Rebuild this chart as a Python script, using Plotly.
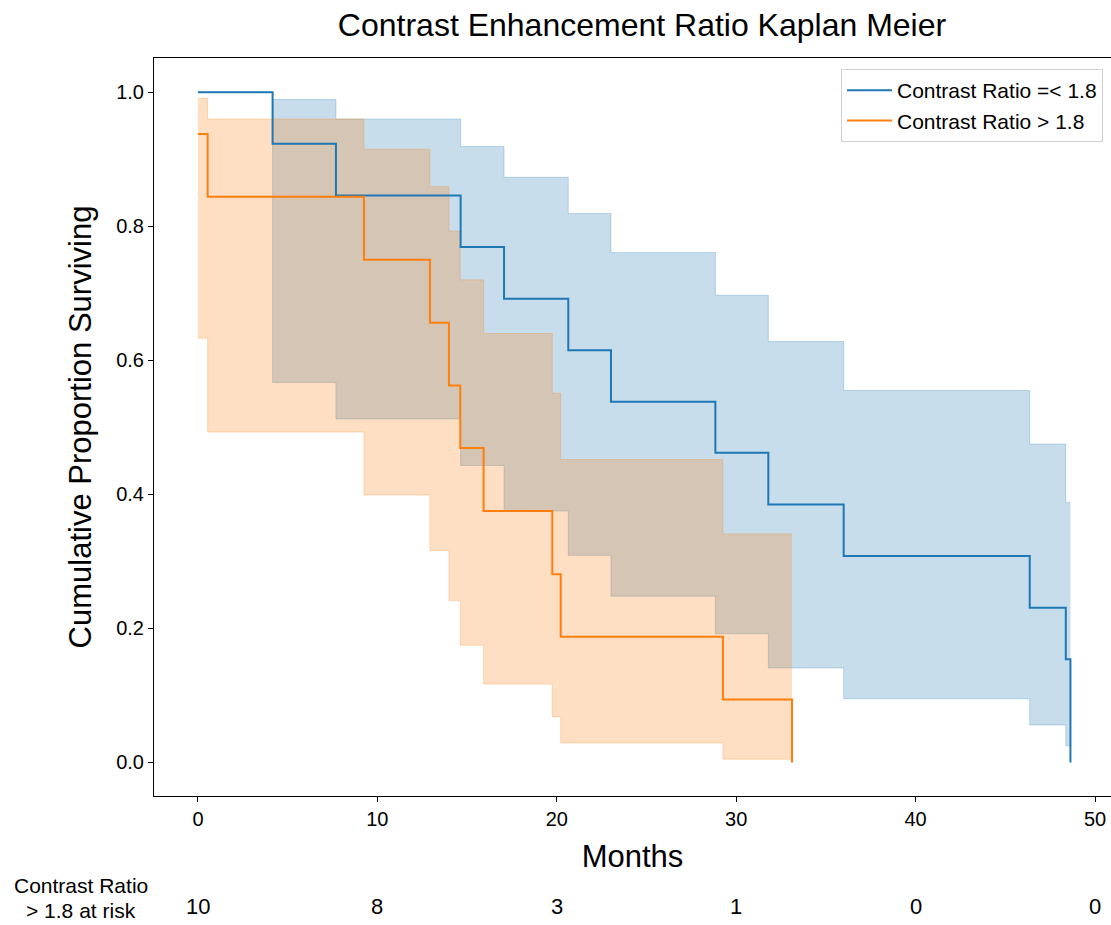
import plotly.graph_objects as go

# ---- data ----
low_times = [0, 4.16, 7.69, 14.64, 17.06, 20.64, 23.02, 28.84, 31.79, 35.99, 46.36, 48.37, 48.63]
low_surv = [1.0, 0.923, 0.846, 0.769, 0.692, 0.615, 0.538, 0.462, 0.385, 0.308, 0.231, 0.154, 0.0]
low_upper = [1.0, 0.989, 0.960, 0.919, 0.873, 0.819, 0.761, 0.697, 0.628, 0.555, 0.475, 0.388, 0.388]
low_lower = [1.0, 0.567, 0.5125, 0.443, 0.375, 0.309, 0.248, 0.192, 0.141, 0.095, 0.056, 0.025, 0.025]

high_times = [0, 0.54, 9.25, 12.93, 13.99, 14.62, 15.92, 19.75, 20.22, 29.26, 33.11]
high_surv = [0.9375, 0.844, 0.750, 0.656, 0.5625, 0.469, 0.375, 0.281, 0.1875, 0.094, 0.0]
high_upper = [0.991, 0.960, 0.915, 0.859, 0.793, 0.720, 0.640, 0.551, 0.452, 0.341, 0.341]
high_lower = [0.633, 0.493, 0.399, 0.316, 0.2415, 0.175, 0.117, 0.068, 0.029, 0.005, 0.005]

risk_times = [0, 10, 20, 30, 40, 50]
risk_counts = [10, 8, 3, 1, 0, 0]

series_names = ["Contrast Ratio =< 1.8", "Contrast Ratio > 1.8"]
title_text = "Contrast Enhancement Ratio Kaplan Meier"
risk_label_lines = ["Contrast Ratio", "> 1.8 at risk"]

BLUE = "#1f77b4"
ORANGE = "#ff7f0e"
BLUE_A = "rgba(31,119,180,0.25)"
ORANGE_A = "rgba(255,127,14,0.25)"
FONT = "Liberation Sans, Arial, sans-serif"

W, H = 1111, 925
plot_left, plot_right = 154, 1111
plot_top, plot_bot = 58, 796
pw = plot_right - plot_left
ph = plot_bot - plot_top


def ypaper(px):
    return (plot_bot - px) / ph


def xpaper(px):
    return (px - plot_left) / pw


fig = go.Figure()


def add_band(times, upper, lower, rgba):
    fig.add_trace(go.Scatter(x=times, y=upper, mode="lines", line=dict(color=rgba, width=1, shape="hv"),
                             showlegend=False, hoverinfo="skip"))
    fig.add_trace(go.Scatter(x=times, y=lower, mode="lines", line=dict(color=rgba, width=1, shape="hv"),
                             fill="tonexty", fillcolor=rgba, showlegend=False, hoverinfo="skip"))


add_band(low_times, low_upper, low_lower, BLUE_A)
add_band(high_times, high_upper, high_lower, ORANGE_A)

fig.add_trace(go.Scatter(x=low_times, y=low_surv, mode="lines", name=series_names[0],
                         line=dict(color=BLUE, width=2, shape="hv")))
fig.add_trace(go.Scatter(x=high_times, y=high_surv, mode="lines", name=series_names[1],
                         line=dict(color=ORANGE, width=2, shape="hv")))

ann = []
for t, c in zip(risk_times, risk_counts):
    ann.append(dict(x=t, xref="x", y=ypaper(906), yref="paper", text=str(c), showarrow=False,
                    font=dict(family=FONT, size=22, color="black"), xanchor="center", yanchor="middle"))
for py, line in zip([885, 910], risk_label_lines):
    ann.append(dict(x=xpaper(81), xref="paper", y=ypaper(py), yref="paper", text=line, showarrow=False,
                    font=dict(family=FONT, size=21, color="black"), xanchor="center", yanchor="middle",
                    borderpad=0))

fig.update_layout(
    annotations=ann,
    width=W, height=H,
    margin=dict(l=plot_left, r=W - plot_right, t=plot_top, b=H - plot_bot, pad=0, autoexpand=False),
    paper_bgcolor="white", plot_bgcolor="white",
    font=dict(family=FONT, color="black"),
    title=dict(text=title_text, x=642 / W, xref="container", xanchor="center",
               y=1 - 25 / H, yref="container", yanchor="middle",
               font=dict(family=FONT, size=32, color="black")),
    legend=dict(x=xpaper(1103), y=ypaper(69), xanchor="right", yanchor="top",
                bgcolor="white", bordercolor="#d0d0d0", borderwidth=1, traceorder="normal",
                font=dict(family=FONT, size=21, color="black"), itemwidth=45, tracegroupgap=0),
    showlegend=True,
)

fig.update_xaxes(range=[-2.45, 50.89], tickvals=[0, 10, 20, 30, 40, 50], ticks="outside", ticklen=5,
                 tickcolor="black", showline=True, linecolor="black", linewidth=1, mirror=True,
                 showgrid=False, zeroline=False, automargin=False,
                 tickfont=dict(family=FONT, size=20, color="black"),
                 title=dict(text="Months", font=dict(family=FONT, size=31, color="black"), standoff=16))
fig.update_yaxes(range=[-0.05, 1.051], tickvals=[0, 0.2, 0.4, 0.6, 0.8, 1.0], tickformat=".1f",
                 ticks="outside", ticklen=5, tickcolor="black", showline=True, linecolor="black",
                 linewidth=1, showgrid=False, zeroline=False, automargin=False,
                 tickfont=dict(family=FONT, size=20, color="black"),
                 title=dict(text="Cumulative Proportion Surviving", font=dict(family=FONT, size=31, color="black"),
                            standoff=15))

fig.write_html("out.html", config={"displayModeBar": False},
               post_script="document.body.style.margin='0';document.body.style.overflow='hidden';")
